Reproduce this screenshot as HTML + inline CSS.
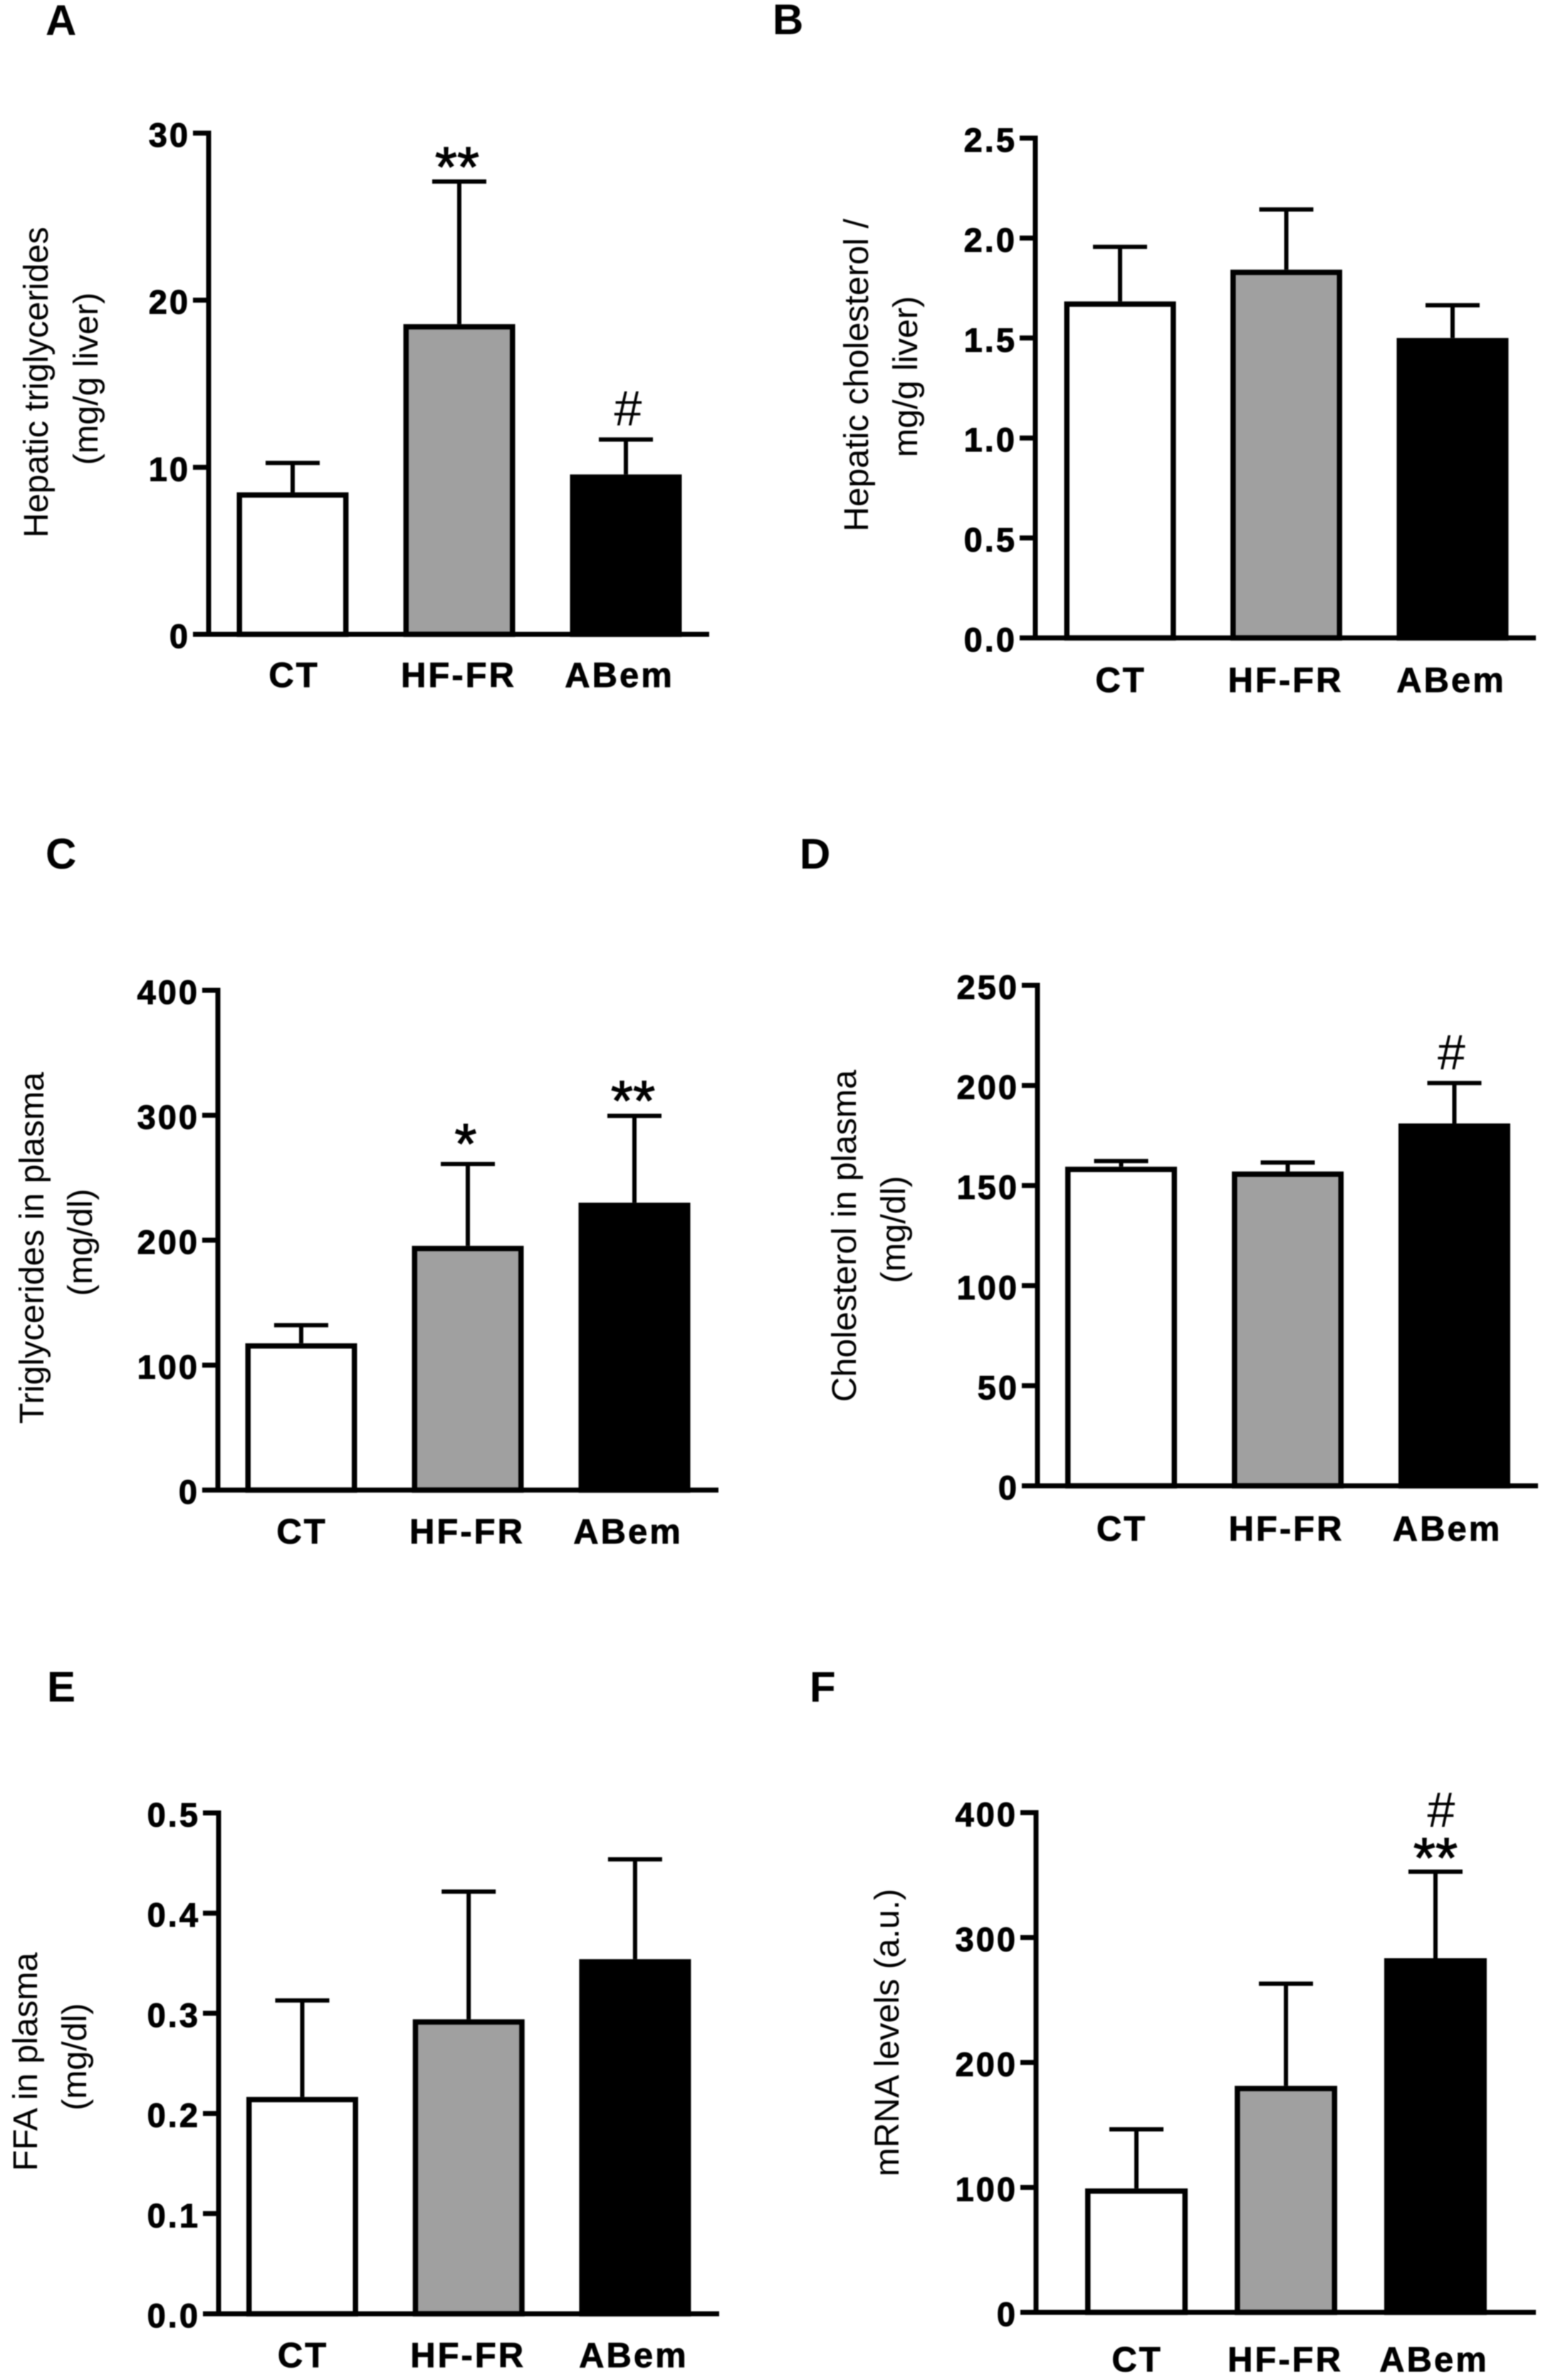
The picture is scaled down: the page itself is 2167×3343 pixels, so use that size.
<!DOCTYPE html>
<html lang="en">
<head>
<meta charset="utf-8">
<title>Hepatic and plasma lipid bar charts</title>
<style>
html,body{margin:0;padding:0;background:#fff;}
svg{display:block;filter:blur(0.7px);}
text{font-family:"Liberation Sans",Arial,sans-serif;fill:#000;}
.panel-letter{font-size:60px;font-weight:bold;}
.axis-title{font-size:48.5px;text-anchor:middle;}
.tick-label{font-size:47px;font-weight:bold;text-anchor:end;letter-spacing:3px;stroke:#000;stroke-width:1px;}
.cat-label{font-size:49px;font-weight:bold;text-anchor:middle;letter-spacing:3px;stroke:#000;stroke-width:0.8px;}
.star{font-size:80px;text-anchor:middle;stroke:#000;stroke-width:1.2px;}
.hash{font-size:70px;text-anchor:middle;}
</style>
</head>
<body>
<svg id="fig" xmlns="http://www.w3.org/2000/svg" width="2167" height="3343" viewBox="0 0 2167 3343">
  <rect x="0" y="0" width="2167" height="3343" fill="#fff"/>

  <g id="panel-a">
    <text class="panel-letter" x="64" y="49">A</text>
    <text class="axis-title" transform="translate(67,537) rotate(-90)">Hepatic triglycerides</text>
    <text class="axis-title" transform="translate(137,532) rotate(-90)">(mg/g liver)</text>
  </g>
  <g id="panel-b">
    <text class="panel-letter" x="1085" y="48">B</text>
    <text class="axis-title" transform="translate(1219,527) rotate(-90)">Hepatic cholesterol /</text>
    <text class="axis-title" transform="translate(1288,529) rotate(-90)">mg/g liver)</text>
  </g>
  <g id="panel-c">
    <text class="panel-letter" x="64" y="1220">C</text>
    <text class="axis-title" transform="translate(61,1753) rotate(-90)">Triglycerides in plasma</text>
    <text class="axis-title" transform="translate(129,1745) rotate(-90)">(mg/dl)</text>
  </g>
  <g id="panel-d">
    <text class="panel-letter" x="1123" y="1220">D</text>
    <text class="axis-title" transform="translate(1202,1736) rotate(-90)">Cholesterol in plasma</text>
    <text class="axis-title" transform="translate(1271,1727) rotate(-90)">(mg/dl)</text>
  </g>
  <g id="panel-e">
    <text class="panel-letter" x="66" y="2390">E</text>
    <text class="axis-title" transform="translate(52,2896) rotate(-90)">FFA in plasma</text>
    <text class="axis-title" transform="translate(121,2889) rotate(-90)">(mg/dl)</text>
  </g>
  <g id="panel-f">
    <text class="panel-letter" x="1137" y="2390">F</text>
    <text class="axis-title" transform="translate(1262,2855) rotate(-90)">mRNA levels (a.u.)</text>
  </g>
</svg>

<script>
// Shared categories
const categories = ['CT', 'HF-FR', 'ABem'];

// Panel A: hepatic triglycerides
const aMeans = [8.5, 18.57, 9.57];
const aErrorTops = [10.26, 27.1, 11.66];
const aTicks = [0, 10, 20, 30];
const aTickLabels = ['0', '10', '20', '30'];

// Panel B: hepatic cholesterol
const bMeans = [1.683, 1.842, 1.5];
const bErrorTops = [1.956, 2.143, 1.664];
const bTicks = [0, 0.5, 1, 1.5, 2, 2.5];
const bTickLabels = ['0.0', '0.5', '1.0', '1.5', '2.0', '2.5'];

// Panel C: plasma triglycerides
const cMeans = [117.5, 195.5, 230];
const cErrorTops = [132, 261, 299.5];
const cTicks = [0, 100, 200, 300, 400];
const cTickLabels = ['0', '100', '200', '300', '400'];

// Panel D: plasma cholesterol
const dMeans = [159.4, 157, 181];
const dErrorTops = [162.2, 161.5, 201.2];
const dTicks = [0, 50, 100, 150, 200, 250];
const dTickLabels = ['0', '50', '100', '150', '200', '250'];

// Panel E: plasma FFA
const eMeans = [0.2165, 0.294, 0.354];
const eErrorTops = [0.3128, 0.4215, 0.4537];
const eTicks = [0, 0.1, 0.2, 0.3, 0.4, 0.5];
const eTickLabels = ['0.0', '0.1', '0.2', '0.3', '0.4', '0.5'];

// Panel F: mRNA levels
const fMeans = [99.2, 181.3, 283.5];
const fErrorTops = [146.5, 263, 352.7];
const fTicks = [0, 100, 200, 300, 400];
const fTickLabels = ['0', '100', '200', '300', '400'];

const SVG_NS = 'http://www.w3.org/2000/svg';
const BAR_FILLS = ['#ffffff', '#a0a0a0', '#000000'];

function make(parent, tag, attrs, txt) {
  const el = document.createElementNS(SVG_NS, tag);
  for (const k in attrs) el.setAttribute(k, attrs[k]);
  if (txt !== undefined) el.textContent = txt;
  parent.appendChild(el);
  return el;
}

function drawPanel(groupId, means, errorTops, ticks, tickLabels, frame, marks) {
  const g = document.getElementById(groupId);
  const yMax = ticks[ticks.length - 1];
  const yOf = function (v) { return frame.y0 - (v / yMax) * (frame.y0 - frame.top); };
  const xOf = function (i) { return frame.x0 + i * frame.step; };
  const stroke = 7.5;

  means.forEach(function (m, i) {
    const cx = xOf(i);
    const capY = yOf(errorTops[i]);
    const barY = yOf(m);

    const stem = make(g, 'line', { x1: cx, x2: cx, y1: capY, y2: barY, stroke: '#000', 'stroke-width': 6 });
    
    

    const cap = make(g, 'line', { x1: cx - 38, x2: cx + 38, y1: capY, y2: capY, stroke: '#000', 'stroke-width': 6 });
    
    

    const bar = make(g, 'rect', {
      x: cx - frame.barW / 2 + stroke / 2,
      y: barY + stroke / 2,
      width: frame.barW - stroke,
      height: Math.max(0, frame.y0 - barY - stroke / 2),
      fill: BAR_FILLS[i],
      stroke: '#000',
      'stroke-width': stroke
    });
    
    

    const lab = make(g, 'text', {
      class: 'cat-label',
      x: cx + frame.labelNudge[i],
      y: frame.labelY
    }, categories[i]);
    
    
  });

  const yAxis = make(g, 'line', { x1: frame.axisX, x2: frame.axisX, y1: frame.top - 3.5, y2: frame.y0, stroke: '#000', 'stroke-width': 7 });
  
  

  const xAxis = make(g, 'line', { x1: frame.axisX, x2: frame.right, y1: frame.y0, y2: frame.y0, stroke: '#000', 'stroke-width': 7 });
  
  

  ticks.forEach(function (t, i) {
    const y = yOf(t);
    const tick = make(g, 'line', { x1: frame.axisX - 22, x2: frame.axisX, y1: y, y2: y, stroke: '#000', 'stroke-width': 7 });
    
    

    const label = make(g, 'text', { class: 'tick-label', x: frame.axisX - 26, y: y + 19 }, tickLabels[i]);
    
    
  });

  marks.forEach(function (mk) {
    const note = make(g, 'text', {
      class: mk.text === '#' ? 'hash' : 'star',
      x: xOf(mk.bar) + mk.dx,
      y: yOf(errorTops[mk.bar]) + mk.dy
    }, mk.text);
    
    
  });
}

drawPanel('panel-a', aMeans, aErrorTops, aTicks, aTickLabels,
  { axisX: 293, top: 187, y0: 891, right: 996, x0: 411, step: 234, barW: 157, labelY: 965, labelNudge: [2, -1, -9] },
  [{ bar: 1, text: '**', dx: -3, dy: 7 }, { bar: 2, text: '#', dx: 3, dy: -20 }]);

drawPanel('panel-b', bMeans, bErrorTops, bTicks, bTickLabels,
  { axisX: 1454, top: 194, y0: 896, right: 2157, x0: 1573, step: 233.5, barW: 157, labelY: 972, labelNudge: [1, -1, -2] },
  []);

drawPanel('panel-c', cMeans, cErrorTops, cTicks, cTickLabels,
  { axisX: 306, top: 1391, y0: 2093, right: 1009, x0: 423, step: 234, barW: 157, labelY: 2168, labelNudge: [1, -1, -9] },
  [{ bar: 1, text: '*', dx: -3, dy: -1 }, { bar: 2, text: '**', dx: -2, dy: 6 }]);

drawPanel('panel-d', dMeans, dErrorTops, dTicks, dTickLabels,
  { axisX: 1457, top: 1384, y0: 2087, right: 2160, x0: 1574.5, step: 234, barW: 157, labelY: 2164, labelNudge: [1, -2, -10] },
  [{ bar: 2, text: '#', dx: -4, dy: -19 }]);

drawPanel('panel-e', eMeans, eErrorTops, eTicks, eTickLabels,
  { axisX: 307, top: 2546.5, y0: 3250, right: 1010, x0: 424.5, step: 233.7, barW: 157, labelY: 3325, labelNudge: [1, -1, -2] },
  []);

drawPanel('panel-f', fMeans, fErrorTops, fTicks, fTickLabels,
  { axisX: 1455, top: 2546, y0: 3248, right: 2157, x0: 1596, step: 210, barW: 144, labelY: 3331, labelNudge: [1, -1, -2] },
  [{ bar: 2, text: '#', dx: 8, dy: -63 }, { bar: 2, text: '**', dx: 0, dy: 8 }]);
</script>
</body>
</html>
